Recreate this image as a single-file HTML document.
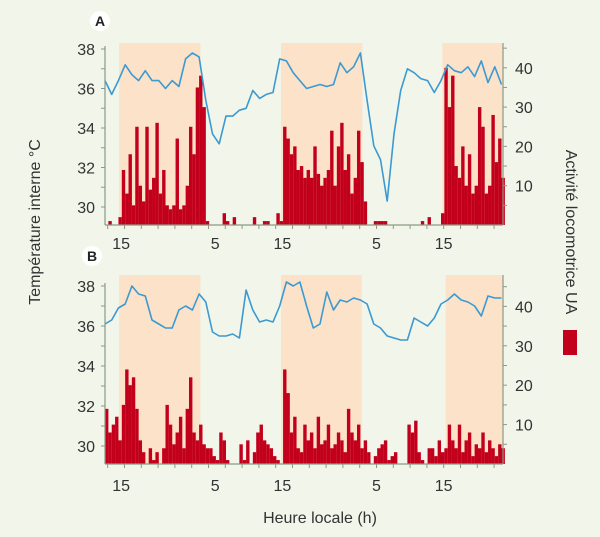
<!DOCTYPE html>
<html><head><meta charset="utf-8"><style>
html,body{margin:0;padding:0;background:#f1f5ea;}
svg{display:block;font-family:"Liberation Sans Narrow","Liberation Sans",sans-serif;}
</style></head><body>
<svg id="chart" width="600" height="537" viewBox="0 0 600 537">
<rect x="0" y="0" width="600" height="537" fill="#f1f5ea"/>
<g id="layer"></g>
<text x="40" y="222" transform="rotate(-90 40 222)" text-anchor="middle" font-size="16" fill="#333">Température interne °C</text>
<text x="566" y="232" transform="rotate(90 566 232)" text-anchor="middle" font-size="16" fill="#333">Activité locomotrice UA</text>
<rect x="563" y="330" width="14" height="25" fill="#c3001c"/>
<text x="320" y="523" text-anchor="middle" font-size="16" fill="#333">Heure locale (h)</text>
</svg>
<script>
const hourTicks=[2.4,16.4,26.4,40.4,50.4];
const hourLabels=["15","5","15","5","15"];
const leftTicks=[30,32,34,36,38];
const rightTicks=[10,20,30,40];
const shadeA=[[2.1,14.2],[26.2,38.3],[50.2,59.2]];
const shadeB=[[2.1,14.2],[26.2,38.2],[50.7,59.2]];
const tempA=[36.4,35.7,36.4,37.2,36.7,36.4,36.9,36.4,36.4,36,36.4,36.1,37.5,37.8,37.6,35.4,33.7,33.2,34.6,34.6,34.9,35,35.9,35.5,35.7,35.8,37.5,37.4,36.8,36.4,36,36.1,36.2,36.1,36.2,37.3,36.8,37.1,37.8,35.4,33.1,32.4,30.3,33.7,35.9,37,36.8,36.5,36.4,35.8,36.4,37.2,36.9,36.8,37.1,36.6,37.4,36.3,37.1,36.2];
const tempB=[36.1,36.3,36.9,37.1,38,37.6,37.5,36.3,36.1,35.9,35.9,36.8,37,36.8,37.6,37.2,35.7,35.5,35.5,35.6,35.4,37.8,36.8,36.2,36.3,36.2,37,38.2,38,38.2,37,35.9,36.1,37.7,36.8,37.3,37.2,37.4,37.3,37.1,36.1,35.9,35.5,35.4,35.3,35.3,36.4,36.2,36,36.4,37.1,37.3,37.6,37.3,37.2,37,36.5,37.5,37.4,37.4];
const actA=[0,1,0,0,2,14,8,18,5,25,10,6,25,9,12,26,8,14,5,4,5,22,4,5,10,25,18,35,38,30,1,0,0,0,0,3,1,0,2,0,0,0,0,0,2,0,0,1,1,0,0,3,1,25,22,18,20,14,15,12,14,12,20,13,10,12,14,24,10,20,26,14,18,8,12,24,16,6,0,0,1,1,1,1,0,0,0,0,0,0,0,0,0,0,1,0,2,0,0,0,3,40,30,38,15,12,20,10,18,8,10,30,25,8,10,28,16,22,12];
const actB=[14,8,10,12,6,15,24,20,22,14,6,3,0,4,1,3,0,4,15,10,5,8,12,4,14,22,8,6,10,5,4,4,2,1,8,6,1,0,0,0,5,1,6,0,3,8,10,6,5,4,2,1,0,24,18,8,12,4,3,10,6,8,4,12,5,6,10,4,5,8,6,3,14,8,6,10,4,6,3,0,2,4,5,6,1,2,3,0,0,0,10,8,11,3,1,0,4,4,2,6,3,4,10,6,4,10,3,6,8,2,5,4,8,3,6,4,2,5,4];
const NS="http://www.w3.org/2000/svg";
const layer=document.getElementById('layer');
const X0=105,PXH=6.72,XR=503;
function xs(t){return X0+t*PXH;}
function mk(tag,attrs,parent){const e=document.createElementNS(NS,tag);for(const k in attrs)e.setAttribute(k,attrs[k]);(parent||layer).appendChild(e);return e;}
function panel(name,cfg,shade,temp,act){
  const g=mk('g',{});
  
  
  const yT=v=>cfg.y30-(v-30)*(cfg.y30-cfg.y38)/8;
  const yA=v=>cfg.base-v*cfg.ua;
  shade.forEach(s=>{const r=mk('rect',{x:xs(s[0]),y:cfg.top,width:xs(s[1])-xs(s[0]),height:cfg.base-cfg.top,fill:'#fbe2c9'},g);
    
    });
  act.forEach((v,i)=>{if(v<=0)return;const b=mk('rect',{x:xs(i*0.5),y:yA(v),width:3.4,height:v*cfg.ua,fill:'#c3001c'},g);
    
    });
  const pts=temp.map((v,i)=>xs(i).toFixed(1)+','+yT(v).toFixed(1)).join(' ');
  const pl=mk('polyline',{points:pts,fill:'none',stroke:'#3b9ad2','stroke-width':1.6,'stroke-linejoin':'round'},g);
  
  
  const ax='#8c9a85';
  const la=mk('line',{x1:X0,y1:cfg.y38-3,x2:X0,y2:cfg.base,stroke:ax,'stroke-width':1.2},g);
  
  
  const ra=mk('line',{x1:XR,y1:cfg.top,x2:XR,y2:cfg.base,stroke:ax,'stroke-width':1.2},g);
  
  
  const xa=mk('line',{x1:X0,y1:cfg.base,x2:XR,y2:cfg.base,stroke:ax,'stroke-width':1.2},g);
  
  
  for(let v=30;v<=38;v++){mk('line',{x1:X0-4,y1:yT(v),x2:X0,y2:yT(v),stroke:ax},g);}
  leftTicks.forEach(v=>{const t=mk('text',{x:X0-10,y:yT(v)+6,'text-anchor':'end','font-size':16,fill:'#333'},g);t.textContent=v;
    
    });
  for(let v=5;v<=45;v+=5){mk('line',{x1:XR,y1:yA(v),x2:XR+4,y2:yA(v),stroke:ax},g);}
  rightTicks.forEach(v=>{const t=mk('text',{x:XR+12,y:yA(v)+6,'font-size':16,fill:'#333'},g);t.textContent=v;
    
    });
  for(let t=0.4;t<59;t+=2.5){mk('line',{x1:xs(t),y1:cfg.base,x2:xs(t),y2:cfg.base+4,stroke:ax},g);}
  hourTicks.forEach((t,i)=>{const tx=mk('text',{x:xs(t),y:cfg.lab,'text-anchor':'middle','font-size':16,fill:'#333'},g);tx.textContent=hourLabels[i];
    
    });
  const c=mk('circle',{cx:cfg.cx,cy:cfg.cy,r:10,fill:'#fff'},g);
  
  
  const lt=mk('text',{x:cfg.cx,y:cfg.cy+5,'text-anchor':'middle','font-size':14,'font-weight':'bold',fill:'#222'},g);
  lt.textContent=cfg.label;
  
  
}
panel('panel-a',{top:43,y38:49,y30:207,base:225,ua:3.93,lab:249,cx:100,cy:21,label:'A'},shadeA,tempA,actA);
panel('panel-b',{top:275,y38:286,y30:446,base:464,ua:3.94,lab:491,cx:92,cy:256,label:'B'},shadeB,tempB,actB);
</script>
</body></html>
